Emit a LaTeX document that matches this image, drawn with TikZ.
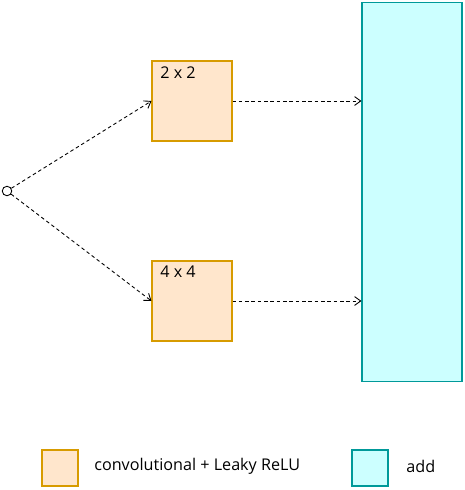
\documentclass[tikz,border=0pt]{standalone}
\usepackage{fontspec}
\setmainfont{Open Sans}
\usetikzlibrary{arrows.meta}

\definecolor{convline}{HTML}{D79B00}
\definecolor{convfill}{HTML}{FFE6CC}
\definecolor{addline}{HTML}{009999}
\definecolor{addfill}{HTML}{CCFFFF}

\tikzset{
    convbox/.style={draw=convline, fill=convfill, line width=0.6pt, minimum size=1.6cm, inner sep=0pt},
    addbox/.style={draw=addline, fill=addfill, line width=0.6pt, inner sep=0pt},
    flow/.style={dashed, dash pattern=on 2pt off 1.6pt, line width=0.5pt, -{Straight Barb[length=3.5pt, width=5pt]}},
    tag/.style={font=\fontsize{9.2}{11}\selectfont, inner sep=0pt}
}

\begin{document}
\begin{tikzpicture}[x=0.02cm, y=-0.02cm]
    \useasboundingbox (0, 0) rectangle (465, 490);
    \node[draw, circle, inner sep=0pt, minimum size=0.19cm, line width=0.5pt] (in) at (7, 191) {};
    \node[convbox] (A) at (192, 101) {};
    \node[tag, anchor=north west] at (160, 66) {2 x 2};
    \node[convbox] (B) at (192, 301) {};
    \node[tag, anchor=north west] at (160, 266) {4 x 4};
    \node[addbox, minimum width=2cm, minimum height=7.6cm] (add) at (412, 192) {};
    \draw[flow] (in) -- (A.west);
    \draw[flow] (in) -- (B.west);
    \draw[flow] (A.east) -- (add.west |- A.east);
    \draw[flow] (B.east) -- (add.west |- B.east);
    % legend
    \node[convbox, minimum size=0.72cm] (lconv) at (60, 468) {};
    \node[tag, anchor=west] at (94, 466) {convolutional + Leaky ReLU};
    \node[addbox, minimum size=0.72cm] (ladd) at (370, 468) {};
    \node[tag, anchor=west] at (406, 466) {add};
\end{tikzpicture}
\end{document}
